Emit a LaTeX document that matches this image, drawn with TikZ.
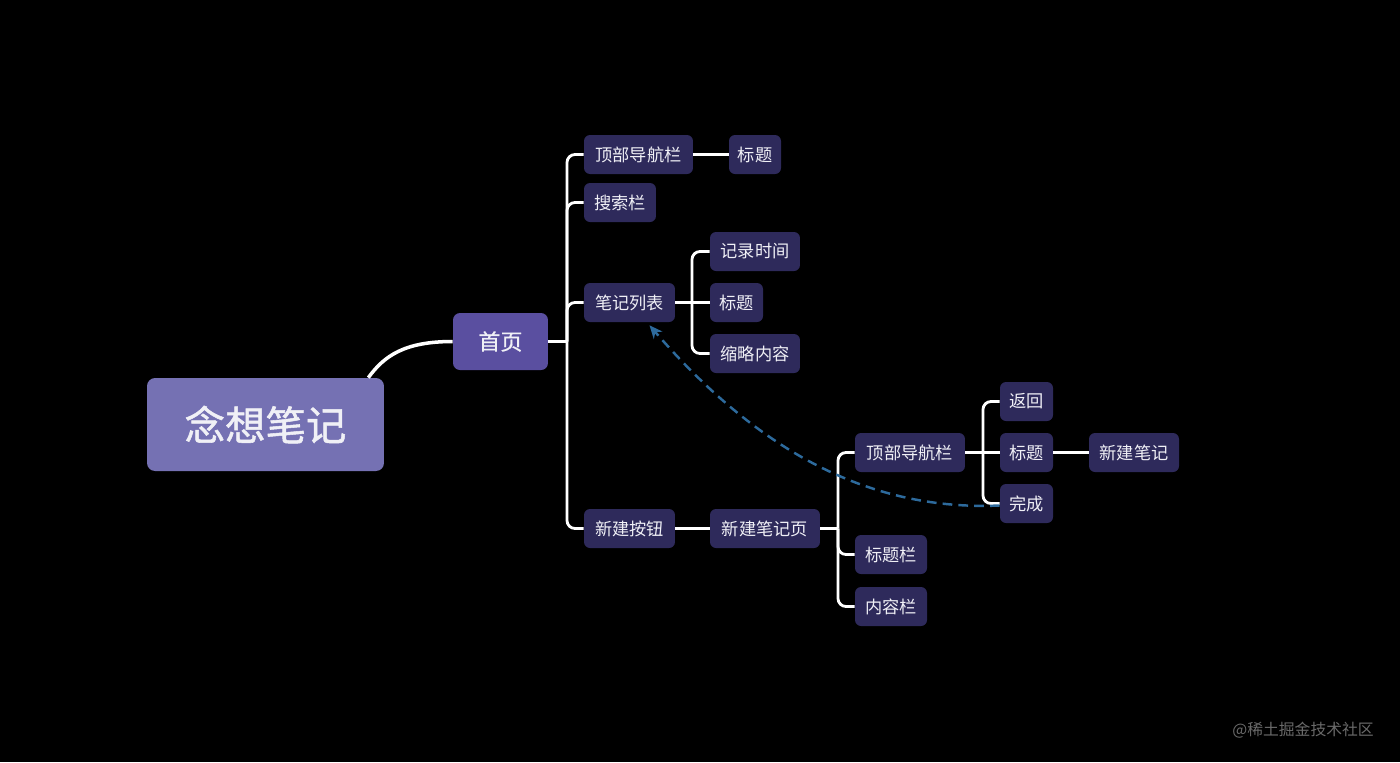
\documentclass[tikz,border=0pt]{standalone}
\usepackage{fontspec}
\setmainfont{Noto Sans CJK SC}
\newfontfamily\medfont[FakeBold=1.3]{Noto Sans CJK SC}
\newfontfamily\semfont[FakeBold=0.8]{Noto Sans CJK SC}
\usetikzlibrary{arrows.meta}
\definecolor{rootc}{HTML}{7571B3}
\definecolor{homec}{HTML}{5A4FA0}
\definecolor{leafc}{HTML}{2E2A5B}
\definecolor{dashc}{HTML}{2D6A9C}
\definecolor{txt}{HTML}{F0F0F6}
\definecolor{wm}{HTML}{6A6A6A}
\begin{document}
\begin{tikzpicture}[x=0.02cm,y=-0.02cm,
  leaf/.style={fill=leafc, rounded corners=0.12cm, text=txt, font=\fontsize{9.8}{12}\selectfont, minimum height=0.78cm, inner sep=0pt, anchor=center},
  rootbox/.style={fill=rootc, rounded corners=0.16cm, text=txt, font=\medfont\fontsize{23}{27}\selectfont, minimum width=4.74cm, minimum height=1.86cm, inner sep=0pt},
  homebox/.style={fill=homec, rounded corners=0.14cm, text=txt, font=\semfont\fontsize{12.5}{15}\selectfont, minimum width=1.9cm, minimum height=1.14cm, inner sep=0pt},
  conn/.style={draw=white, line width=1.6pt, rounded corners=0.16cm},
  link/.style={draw=dashc, line width=1.4pt, dash pattern=on 5.5pt off 3.5pt, -{Stealth[length=7.5pt,width=6.5pt]}}
]
\path[fill=black] (0,0) rectangle (1400,762);

% nodes
\node[rootbox] (root) at (265.5,424.5) {念想笔记};
\node[homebox] (home) at (500.5,341.5) {首页};

\node[leaf, minimum width=2.18cm] (top1) at (638.5,154.5) {顶部导航栏};
\node[leaf, minimum width=1.04cm] (title1) at (755,154.5) {标题};
\node[leaf, minimum width=1.44cm] (search) at (620,202.5) {搜索栏};
\node[leaf, minimum width=1.82cm] (notes) at (629.5,302.5) {笔记列表};
\node[leaf, minimum width=1.80cm] (time) at (755,251.5) {记录时间};
\node[leaf, minimum width=1.06cm] (title2) at (736.5,302.5) {标题};
\node[leaf, minimum width=1.80cm] (brief) at (755,353.5) {缩略内容};
\node[leaf, minimum width=1.82cm] (newbtn) at (629.5,528.5) {新建按钮};
\node[leaf, minimum width=2.20cm] (newpage) at (765,528.5) {新建笔记页};
\node[leaf, minimum width=2.20cm] (top2) at (910,452.5) {顶部导航栏};
\node[leaf, minimum width=1.44cm] (titlebar) at (891,554.5) {标题栏};
\node[leaf, minimum width=1.44cm] (content) at (891,606.5) {内容栏};
\node[leaf, minimum width=1.06cm] (back) at (1026.5,401.5) {返回};
\node[leaf, minimum width=1.06cm] (title3) at (1026.5,452.5) {标题};
\node[leaf, minimum width=1.06cm] (done) at (1026.5,503.5) {完成};
\node[leaf, minimum width=1.80cm] (newnote) at (1134,452.5) {新建笔记};

% junctions
\coordinate (j1) at (567,341.5);
\coordinate (j2) at (692,302.5);
\coordinate (j3) at (838,528.5);
\coordinate (j4) at (983,452.5);

% root -> home
\draw[draw=white, line width=2pt] (root.north east) ++(-16,0) .. controls +(16,-22) and +(-48,0) .. (home.west);

% home branches
\draw[conn] (home.east) -- (j1);
\foreach \c in {top1,search,notes,newbtn} \draw[conn] (j1) |- (\c.west);
\draw[conn] (top1.east) -- (title1.west);

% notes branches
\draw[conn] (notes.east) -- (title2.west);
\foreach \c in {time,brief} \draw[conn] (j2) |- (\c.west);

% new button
\draw[conn] (newbtn.east) -- (newpage.west);
\draw[conn] (newpage.east) -- (j3);
\foreach \c in {top2,titlebar,content} \draw[conn] (j3) |- (\c.west);

% top nav 2
\draw[conn] (top2.east) -- (title3.west);
\foreach \c in {back,done} \draw[conn] (j4) |- (\c.west);
\draw[conn] (title3.east) -- (newnote.west);

% dashed link
\draw[link] ([yshift=-0.04cm]done.west) .. controls (850,512) and (740,430) .. ([xshift=0.4cm,yshift=-0.06cm]notes.south);

% watermark
\node[text=wm, font=\fontsize{9}{11}\selectfont, anchor=east] (wmark) at (1380,730) {@稀土掘金技术社区};
\end{tikzpicture}
\end{document}
